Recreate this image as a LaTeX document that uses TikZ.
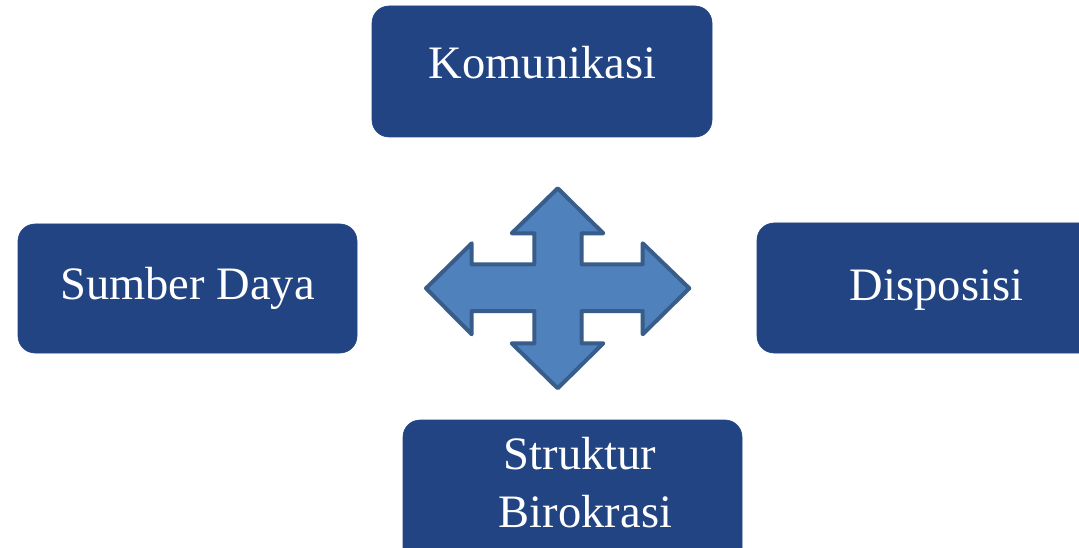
\documentclass[tikz,border=0pt]{standalone}
\usepackage{fontspec}
\setmainfont{Liberation Serif}
\definecolor{boxblue}{HTML}{224483}
\definecolor{arrowfill}{HTML}{4F81BD}
\definecolor{arrowedge}{HTML}{385D8A}
\begin{document}
\begin{tikzpicture}[x=1pt,y=-1pt,
  box/.style={fill=boxblue,draw=boxblue,line width=0.6pt,rounded corners=17pt},
  lbl/.style={text=white,anchor=base,inner sep=0pt,font=\fontsize{46.5}{58}\selectfont}]
\clip (0,0) rectangle (1079,548);
\fill[white] (0,0) rectangle (1079,548);
% boxes
\node[box,minimum width=340pt,minimum height=131pt] (kom) at (542,71.5) {};
\node[box,minimum width=339pt,minimum height=129pt] (sum) at (187.5,288.5) {};
\node[box,minimum width=340pt,minimum height=130pt] (dis) at (927,288) {};
\node[box,minimum width=339pt,minimum height=150pt] (str) at (572.5,495) {};
% labels
\node[lbl] (tkom) at (542.5,79) {Komunikasi};
\node[lbl] (tsum) at (187.5,299) {Sumber Daya};
\node[lbl] (tdis) at (936.5,300) {Disposisi};
\node[lbl] (tstr1) at (580,469) {Struktur};
\node[lbl] (tstr2) at (585.5,527) {Birokrasi};
% four-way arrow
\draw[fill=arrowfill,draw=arrowedge,line width=4pt,line join=round]
 (557.7,188.3) -- (603.3,233.3) -- (581.7,233.3) -- (581.7,264.3)
 -- (642.7,264.3) -- (642.7,243.3) -- (689.3,288.3) -- (642.7,334.3)
 -- (642.7,311) -- (581.7,311) -- (581.7,343.3) -- (603.3,343.3)
 -- (557.7,388.3) -- (511.7,343.3) -- (534.3,343.3) -- (534.3,311)
 -- (471.7,311) -- (471.7,334.3) -- (426,288.3) -- (471.7,243.3)
 -- (471.7,264.3) -- (534.3,264.3) -- (534.3,233.3) -- (511.7,233.3) -- cycle;
\end{tikzpicture}
\end{document}
